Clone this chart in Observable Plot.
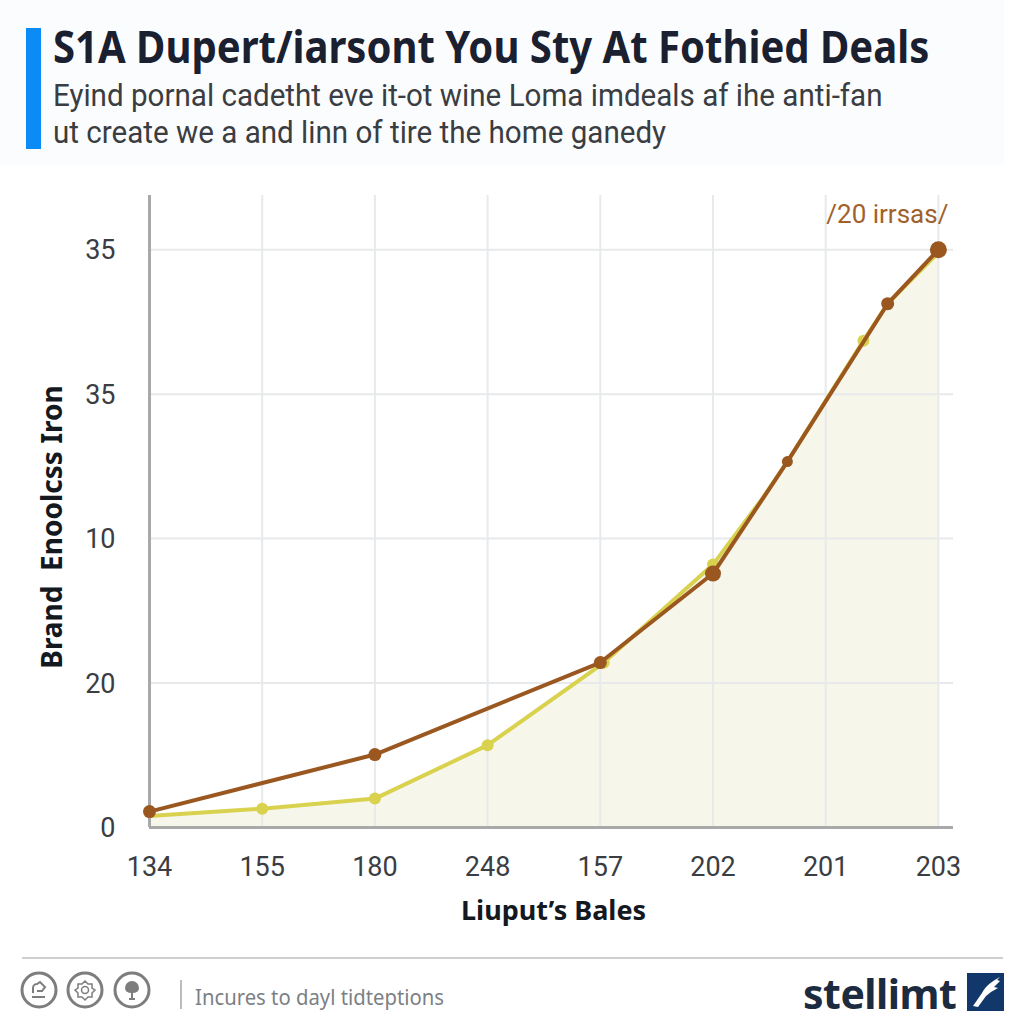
<!DOCTYPE html>
<html>
<head>
<meta charset="utf-8">
<script src="https://cdn.jsdelivr.net/npm/d3@7"></script>
<script src="https://cdn.jsdelivr.net/npm/@observablehq/plot@0.6"></script>
<style>
html,body{margin:0;padding:0;background:#fff;width:1024px;height:1024px;overflow:hidden}
.abs{position:absolute;white-space:nowrap}
#hdr{left:0;top:0;width:1004px;height:165px;background:#fbfcfd}
#bar{left:26px;top:28px;width:15px;height:121px;background:#0a8bf5}
#title{left:53px;top:19px;font:700 44px/54px "Noto Sans",sans-serif;color:#1a2030;transform-origin:0 0;transform:scaleX(.91)}
#sub1,#sub2{left:53px;font:400 31px/36px Roboto,sans-serif;color:#3a3d42;transform-origin:0 0;transform:scaleX(.954)}
#sub1{top:78px}#sub2{top:115px}
#chart{left:0;top:180px}
#rule{left:22px;top:957px;width:981px;height:2px;background:#cfcfcf}
#sep{left:180px;top:980px;width:2px;height:29px;background:#bcbcbc}
#note{left:195px;top:983px;font:400 21px/28px "Noto Sans",sans-serif;color:#7c7f84;transform-origin:0 0;transform:scaleX(.966)}
#logo{left:803px;top:968px;font:700 41px/50px "Noto Sans",sans-serif;color:#1c2b40;letter-spacing:-.5px}
#icons{left:18px;top:968px}
#mark{left:967px;top:973px}
</style>
</head>
<body>
<div class="abs" id="hdr"></div>
<div class="abs" id="bar"></div>
<div class="abs" id="title">S1A Dupert/iarsont You Sty At Fothied Deals</div>
<div class="abs" id="sub1">Eyind pornal cadetht eve it-ot wine Loma imdeals af ihe anti-fan</div>
<div class="abs" id="sub2">ut create we a and linn of tire the home ganedy</div>
<div class="abs" id="chart"></div>
<div class="abs" id="rule"></div>
<svg class="abs" id="icons" width="140" height="46" fill="none" stroke="#7d7d7d">
  <g stroke-width="3"><circle cx="21" cy="22" r="17"/><circle cx="67" cy="22" r="17"/><circle cx="114" cy="22" r="17"/></g>
  <g stroke-width="2">
    <path d="M14 29h13M15 25v-5a4 4 0 0 1 4-4l3-2 5 5-3 4h-5"/>
    <path d="M67 13l3 3h4v4l3 2-3 3v4h-4l-3 3-3-3h-4v-4l-3-3 3-2v-4h4z" stroke-width="1.5"/>
    <circle cx="67" cy="22" r="3.5" stroke-width="1.5"/>
    <path d="M114 22v9M111 31h6"/>
    <path d="M108 20a6 6 0 0 1 12 0c0 3-3 4-6 4s-6-1-6-4z" fill="#7d7d7d"/>
  </g>
</svg>
<div class="abs" id="sep"></div>
<div class="abs" id="note">Incures to dayl tidteptions</div>
<div class="abs" id="logo">stellimt</div>
<svg class="abs" id="mark" width="37" height="38">
  <rect width="37" height="38" fill="#12386b"/>
  <path d="M33 4C26 8 19 12 15 20L6 33l5 1 8-11 5-4 7-4-4-1 6-6-3-1 3-3z" fill="#fff"/>
</svg>
<script>
const xLabels = ["134","155","180","248","157","202","201","203"];
const yLabels = ["0","20","10","35","35"];
const xTicks = [0,1,2,3,4,5,6,7];
const yTicks = [0,1,2,3,4];

const brownX = [0, 2, 4, 5, 5.66, 6.55, 7];
const brownY = [0.11, 0.505, 1.142, 1.758, 2.533, 3.626, 4.0];

const yellowX = [0, 1, 2, 3, 4.03, 5, 5.44, 5.66, 6.335, 6.55, 7];
const yellowY = [0.08, 0.13, 0.2, 0.57, 1.14, 1.82, 2.28, 2.533, 3.37, 3.626, 3.98];

const yellowMarkerX = [1, 2, 3, 4.03, 5, 6.335];
const yellowMarkerY = [0.13, 0.2, 0.57, 1.14, 1.82, 3.37];

const brownData = brownX.map((x,i)=>({x, y:brownY[i]}));
const yellowData = yellowX.map((x,i)=>({x, y:yellowY[i]}));
const yellowMarkers = yellowMarkerX.map((x,i)=>({x, y:yellowMarkerY[i]}));

const BROWN = "#9a5720", YELLOW = "#d9d24e", FILL = "#f7f6ea", GRID = "#e7e9eb", AXIS = "#a9a9a9";
const INK = "#3a3d42";

const chart = Plot.plot({
  width: 1024, height: 760,
  marginLeft: 149, marginRight: 71, marginTop: 15, marginBottom: 113,
  style: {background: "transparent", fontFamily: "Roboto, sans-serif"},
  x: {domain: [0, 7.134], axis: null},
  y: {domain: [0, 4.375], axis: null},
  marks: [
    Plot.areaY(yellowData, {x:"x", y:"y", fill:FILL}),
    Plot.ruleX(xTicks, {stroke:GRID, strokeWidth:2}),
    Plot.ruleY(yTicks.slice(1), {stroke:GRID, strokeWidth:2}),
    Plot.ruleX([0], {stroke:AXIS, strokeWidth:3}),
    Plot.ruleY([0], {stroke:AXIS, strokeWidth:3}),
    Plot.axisX({ticks:xTicks, tickFormat:i=>xLabels[i], tickSize:0, tickPadding:29, fontSize:27, color:INK, label:null}),
    Plot.axisY({ticks:yTicks, tickFormat:i=>yLabels[i], tickSize:0, tickPadding:34, fontSize:27, color:INK, label:null, dy:1}),
    Plot.line(yellowData, {x:"x", y:"y", stroke:YELLOW, strokeWidth:4}),
    Plot.dot(yellowMarkers, {x:"x", y:"y", fill:YELLOW, r:6}),
    Plot.line(brownData, {x:"x", y:"y", stroke:BROWN, strokeWidth:4}),
    Plot.dot(brownData.filter(d=>d.x!==7 && d.x!==5 && d.x!==5.66), {x:"x", y:"y", fill:BROWN, r:6.5}),
    Plot.dot(brownData.filter(d=>d.x===5.66), {x:"x", y:"y", fill:BROWN, r:5.5}),
    Plot.dot(brownData.filter(d=>d.x===5), {x:"x", y:"y", fill:BROWN, r:8}),
    Plot.dot(brownData.filter(d=>d.x===7), {x:"x", y:"y", fill:BROWN, r:8.5}),
    Plot.text(["/20 irrsas/"], {x:7, y:4, dx:10, dy:-35, textAnchor:"end", fill:"#a0622a", fontSize:26}),
    Plot.text(["Liuput’s Bales"], {x:3.585, y:0, dy:84, fill:"#14181f", fontSize:27, fontWeight:700, fontFamily:"Noto Sans"}),
    Plot.text(["Brand  Enoolcss Iron"], {x:-0.86, y:2.08, rotate:-90, fill:"#14181f", fontSize:28, fontWeight:700, fontFamily:"Noto Sans"})
  ]
});
document.getElementById("chart").appendChild(chart);
</script>
</body>
</html>
